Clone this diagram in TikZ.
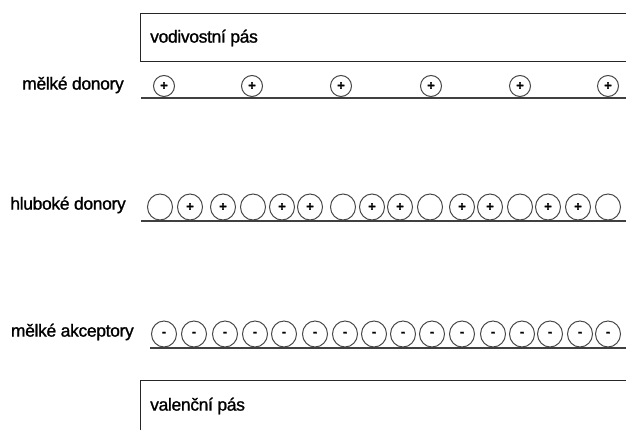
\documentclass[tikz,border=0pt]{standalone}
\usepackage{fontspec}
\usetikzlibrary{shapes.geometric}
\setmainfont{Liberation Sans}
\newfontfamily\tightsans[LetterSpace=-2,FakeBold=1.2]{Liberation Sans}
\newfontfamily\signfont[FakeBold=1.5]{Liberation Sans}
\begin{document}
\begin{tikzpicture}[x=1pt,y=-1pt,
  lbl/.style={anchor=east,font=\tightsans\fontsize{17.5}{17.5}\selectfont,inner sep=0pt},
  bandtxt/.style={anchor=west,font=\tightsans\fontsize{17.5}{17.5}\selectfont,inner sep=0pt},
  ion/.style={ellipse,draw=black!72,line width=1pt,inner sep=0pt,font=\signfont\fontsize{13}{13}\selectfont\bfseries},
  sdon/.style={circle,draw=black!72,line width=1pt,inner sep=0pt,font=\signfont\fontsize{13}{13}\selectfont\bfseries,minimum size=21pt},
  deep/.style={ion,minimum width=25pt,minimum height=26pt},
  level/.style={draw=black!75,line width=1.4pt},
  band/.style={draw=black!85,line width=0.9pt}]
\useasboundingbox (0,0) rectangle (626,430);
\begin{scope}
\clip (0,0) rectangle (626,430);
\draw[band] (640,13) -- (140,13) -- (140,61) -- (640,61);
\draw[band] (640,380) -- (140,380) -- (140,440);
\end{scope}
\node[bandtxt] (vod) at (150,38) {vodivostní pás};
\node[bandtxt] (val) at (150,406) {valenční pás};
% shallow donors
\node[lbl] (lsd) at (124,85) {mělké donory};
\foreach \x [count=\i] in {164,252,341,431,520,608}
  \node[sdon] (d\i) at (\x,86) {+};
\draw[level] (141,98) -- (626,98);
% deep donors
\node[lbl] (ldd) at (126,205) {hluboké donory};
\foreach \x/\s [count=\i] in {160/{},190/+,223/+,253/{},282/+,310/+,343/{},372/+,400/+,430/{},462/+,490/+,520/{},548/+,578/+,608/{}}
  \node[deep] (h\i) at (\x,207) {\s};
\draw[level] (141,221) -- (626,221);
% shallow acceptors
\node[lbl] (lsa) at (134,332) {mělké akceptory};
\foreach \x [count=\i] in {164,194,225,255,284,315,345,374,403,432,462,493,522,550,580,608}
  \node[deep] (a\i) at (\x,334) {-};
\draw[level] (150,348) -- (626,348);
\end{tikzpicture}
\end{document}
